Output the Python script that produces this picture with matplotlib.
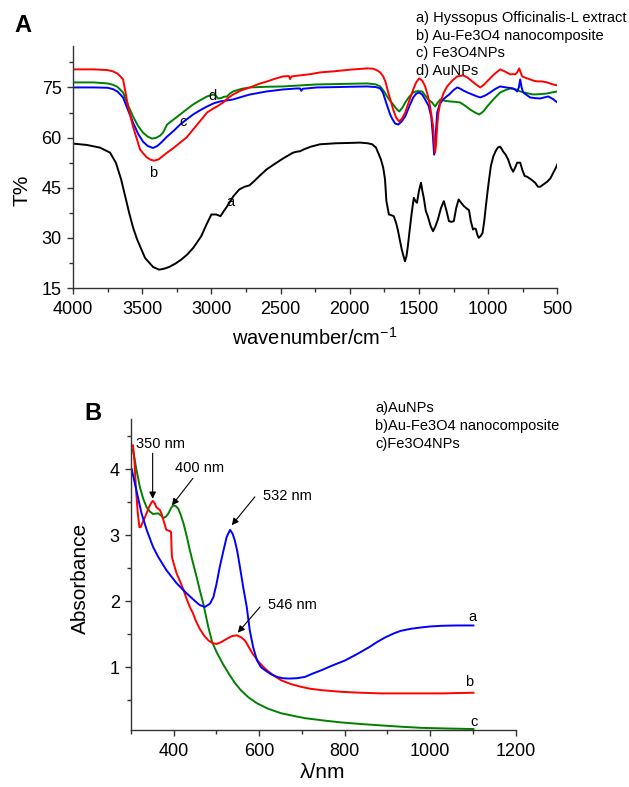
import matplotlib
matplotlib.use("Agg")
import matplotlib.pyplot as plt
from matplotlib.ticker import MultipleLocator

plt.rcParams['font.family'] = ['Liberation Sans', 'DejaVu Sans']
plt.rcParams['mathtext.fontset'] = 'custom'
plt.rcParams['mathtext.rm'] = 'Liberation Sans'

# ---------------- panel A : FTIR (wavenumber, T%) ----------------
wn_a = [4000, 3900, 3805, 3732, 3690, 3652, 3620, 3594, 3565, 3536, 3479, 3421, 3377, 3340, 3305,
        3260, 3218, 3175, 3131, 3073, 3035, 3000, 2965, 2934, 2910, 2885, 2840, 2798, 2760, 2725,
        2690, 2653, 2600, 2554, 2480, 2409, 2380, 2360, 2330, 2280, 2214, 2100, 2000, 1925, 1870,
        1838, 1810, 1795, 1775, 1758, 1745, 1735, 1717, 1700, 1682, 1665, 1653, 1624, 1601, 1590,
        1580, 1565, 1552, 1537, 1525, 1514, 1500, 1485, 1475, 1465, 1450, 1436, 1415, 1398, 1380,
        1363, 1340, 1320, 1300, 1283, 1265, 1248, 1230, 1213, 1195, 1175, 1155, 1138, 1125, 1109,
        1098, 1089, 1078, 1068, 1055, 1040, 1028, 1016, 1005, 993, 980, 963, 945, 930, 913, 900,
        891, 875, 855, 835, 819, 805, 790, 768, 750, 735, 718, 690, 660, 640, 623, 600, 573, 550,
        529, 510, 500]
t_a = [58.2, 57.8, 57.0, 55.5, 52.5, 47.5, 42, 37.5, 33, 29.5, 24, 21.3, 20.5, 20.8, 21.3,
       22.3, 23.5, 25, 27, 30.5, 34, 37, 37, 36.5, 38, 39.5, 42.5, 44.5, 45.3, 45.7,
       47, 48.5, 50.5, 51.8, 53.8, 55.5, 55.8, 55.9, 56.5, 57.3, 58, 58.3, 58.4, 58.5, 58.3,
       58, 57, 55.5, 53.5, 51, 47.5, 41, 37, 36.8, 36.5, 34.5, 32.5, 26.5, 23, 24.5,
       27.5, 33, 37.5, 42, 41, 40.5, 44, 46.5, 44, 42, 38, 36.5, 33.5, 32, 33.5,
       35.5, 39, 41, 38, 35, 34.8, 35, 39, 41.5, 40.5, 39.5, 38.8, 38.3, 35, 32.5,
       32.8, 32.7, 31, 30, 30.5, 31.5, 35, 39.5, 43.5, 47.5, 51.5, 54.3, 56, 57, 57.3, 56.5,
       55.8, 55, 53.4, 51, 49.8, 51, 52.5, 52.5, 50, 48.5, 48.3, 47.5, 46.5, 45.3, 45.3, 46, 46.8, 47.8,
       49.5, 51, 52]

wn_b = [4000, 3850, 3750, 3711, 3680, 3655, 3638, 3620, 3602, 3566, 3515, 3470, 3440, 3414, 3380,
        3350, 3320, 3270, 3226, 3180, 3132, 3080, 3031, 2990, 2959, 2915, 2880, 2843, 2780, 2720,
        2660, 2597, 2540, 2481, 2440, 2430, 2420, 2359, 2280, 2214, 2120, 2000, 1874, 1830, 1802,
        1780, 1758, 1740, 1722, 1700, 1686, 1665, 1643, 1620, 1599, 1570, 1541, 1520, 1498, 1475,
        1455, 1435, 1419, 1405, 1397, 1390, 1383, 1376, 1368, 1360, 1346, 1320, 1296, 1260, 1223,
        1180, 1150, 1115, 1085, 1057, 1030, 1007, 960, 913, 880, 840, 820, 804, 790, 775,
        765, 754, 725, 696, 670, 645, 610, 573, 540, 500]
t_b = [80.4, 80.4, 80.2, 79.8, 79.2, 78.2, 77.4, 73.5, 69.3, 63.3, 56.4, 54.2, 53.4, 53.1, 53.5,
       54.5, 55.5, 57, 58.5, 60, 62.4, 65, 67.5, 68.6, 69.3, 70.5, 71.8, 72.9, 74.2, 75,
       76, 76.8, 77.6, 78.3, 78.4, 77.5, 78.3, 78.6, 79.0, 79.5, 79.8, 80.3, 80.7, 80.6, 80.1,
       79.5, 78.3, 76.5, 73.5, 70.5, 68.4, 66, 64.8, 65.8, 67.5, 71, 74.4, 76.5, 77.7, 77,
       75.3, 72.5, 69.3, 65.5, 63.3, 59, 55.5, 58, 63.3, 67, 70.5, 73.5, 75.3, 77, 78.3,
       78.6, 78, 76.8, 75.8, 75, 75.8, 76.8, 78.8, 80.4, 79.8, 78.9, 79, 78.9, 79.5, 80.7,
       79.5, 78.3, 77.8, 77.4, 77, 76.8, 76.8, 76.5, 76, 75.6]

wn_c = [4000, 3850, 3750, 3711, 3680, 3660, 3638, 3600, 3566, 3530, 3494, 3460, 3429, 3421, 3390,
        3360, 3320, 3270, 3226, 3180, 3132, 3080, 3031, 2980, 2937, 2890, 2843, 2780, 2720, 2600,
        2481, 2380, 2360, 2350, 2340, 2236, 2100, 2000, 1874, 1810, 1780, 1760, 1744, 1725, 1708,
        1690, 1672, 1650, 1625, 1599, 1570, 1541, 1520, 1498, 1475, 1455, 1430, 1411, 1400, 1390,
        1380, 1368, 1350, 1325, 1300, 1281, 1250, 1223, 1200, 1180, 1150, 1115, 1085, 1057, 1020,
        985, 950, 913, 870, 819, 800, 790, 778, 768, 758, 746, 720, 696, 660, 623,
        595, 565, 530, 500]
t_c = [75, 75, 74.9, 74.5, 73.8, 73, 72, 68, 64.5, 61.2, 58.8, 57.5, 57, 56.9, 57.5,
       58.6, 60.3, 62.1, 63.9, 65.4, 66.9, 68.2, 69.3, 70.3, 70.8, 71.1, 71.4, 72.2, 72.9, 73.8,
       74.4, 74.7, 74.7, 74.0, 74.6, 75, 75.1, 75.2, 75.3, 75.1, 74.7, 73.5, 71.4, 69, 66.9,
       65.4, 64.2, 63.9, 64.8, 66.3, 69.3, 72, 73.1, 73.5, 72.8, 71.4, 69.5, 66.3, 61, 54.9,
       60, 67.5, 70, 71.4, 72.3, 72.9, 74.2, 75, 74.6, 74.1, 73.5, 72.9, 72.4, 72, 72.6,
       73.5, 74.5, 75.3, 75, 74.7, 74.2, 73.8, 75, 77.4, 75, 73.5, 72.7, 72, 71.8, 71.7,
       72, 72.3, 71.5, 70.5]

wn_d = [4000, 3850, 3750, 3711, 3680, 3660, 3638, 3600, 3566, 3530, 3494, 3460, 3429, 3400, 3370,
        3349, 3320, 3270, 3226, 3180, 3132, 3080, 3031, 2988, 2970, 2951, 2930, 2910, 2887, 2865,
        2843, 2780, 2720, 2600, 2481, 2360, 2236, 2100, 2000, 1874, 1810, 1780, 1755, 1730, 1708,
        1686, 1665, 1643, 1620, 1599, 1570, 1541, 1510, 1476, 1455, 1433, 1405, 1383, 1365, 1346,
        1310, 1274, 1240, 1202, 1165, 1130, 1095, 1064, 1035, 1007, 960, 913, 875, 840, 800,
        768, 720, 674, 620, 573, 540, 500]
t_d = [76.5, 76.5, 76.2, 75.8, 75.2, 74.4, 73.5, 69.5, 66.3, 63.5, 61.5, 60.3, 59.7, 59.9, 60.6,
       61.5, 63.9, 65.5, 66.9, 68.4, 69.9, 71.2, 72.3, 72.9, 72.6, 71.7, 71.8, 72.2, 72.3, 73.2,
       73.8, 74.6, 75, 75.2, 75.3, 75.6, 75.9, 76, 76.1, 76.2, 75.9, 75.3, 74, 72.3, 71,
       69.9, 68.7, 67.8, 68.9, 70.5, 72.2, 73.5, 73.9, 73.8, 72.6, 71.4, 70.5, 69.3, 70.4, 71.4,
       71, 70.8, 70.7, 70.5, 69.5, 68.4, 67.5, 66.9, 67.8, 69.3, 71.5, 73.5, 74.2, 74.7, 74.4,
       73.8, 73.3, 72.9, 73, 73.2, 73.5, 73.8]

legend_a = ["a) Hyssopus Officinalis-L extract", "b) Au-Fe3O4 nanocomposite",
            "c) Fe3O4NPs", "d) AuNPs"]

# ---------------- panel B : UV-vis (nm, absorbance) ----------------
wl_au = [302, 313, 325, 337, 352, 364, 383, 407, 430, 450, 461, 473, 485, 493, 500, 508, 516, 524,
         532, 538, 543, 549, 555, 563, 571, 578, 586, 595, 604, 614, 628, 642, 655, 670, 688, 707,
         725, 745, 770, 801, 830, 857, 876, 895, 915, 932, 955, 979, 1000, 1026, 1060, 1101]
abs_au = [4.0, 3.68, 3.33, 3.08, 2.82, 2.67, 2.47, 2.27, 2.12, 2.0, 1.94, 1.91, 1.96, 2.06, 2.25, 2.52,
          2.75, 2.97, 3.08, 3.02, 2.92, 2.75, 2.52, 2.2, 1.91, 1.56, 1.3, 1.1, 1.0, 0.95, 0.89, 0.85,
          0.83, 0.825, 0.83, 0.85, 0.9, 0.95, 1.02, 1.1, 1.2, 1.3, 1.38, 1.45, 1.51, 1.55, 1.58, 1.6,
          1.615, 1.625, 1.63, 1.63]

wl_comp = [305, 308, 312, 316, 320, 323, 328, 333, 341, 346, 351, 356, 360, 368, 372, 376, 383, 391,
           394, 395, 396, 401, 407, 415, 423, 430, 438, 445, 452, 461, 472, 482, 492, 501, 512, 525,
           537, 548, 558, 567, 576, 585, 600, 614, 632, 651, 675, 698, 720, 745, 790, 838, 885, 932,
           980, 1026, 1060, 1101]
abs_comp = [4.36, 4.17, 3.7, 3.35, 3.12, 3.12, 3.2, 3.27, 3.4, 3.47, 3.52, 3.48, 3.42, 3.38, 3.32, 3.23,
            3.08, 3.06, 3.05, 2.85, 2.67, 2.55, 2.42, 2.3, 2.17, 2.04, 1.91, 1.82, 1.7, 1.58, 1.47, 1.4,
            1.36, 1.35, 1.38, 1.43, 1.47, 1.48, 1.45, 1.4, 1.3, 1.2, 1.07, 0.975, 0.88, 0.8, 0.74, 0.7,
            0.67, 0.65, 0.625, 0.61, 0.6, 0.6, 0.6, 0.6, 0.605, 0.61]

wl_fe = [305, 313, 321, 329, 337, 344, 352, 364, 370, 376, 382, 388, 394, 399, 405, 411, 417, 423,
         430, 438, 446, 454, 461, 469, 475, 481, 490, 501, 515, 529, 543, 557, 575, 595, 620, 651,
         680, 707, 750, 792, 840, 885, 932, 979, 1040, 1101]
abs_fe = [4.29, 4.0, 3.73, 3.55, 3.42, 3.36, 3.32, 3.33, 3.3, 3.26, 3.28, 3.33, 3.41, 3.45, 3.44, 3.4,
          3.3, 3.18, 3.0, 2.77, 2.56, 2.36, 2.17, 1.97, 1.79, 1.61, 1.38, 1.22, 1.05, 0.9, 0.76, 0.65,
          0.54, 0.45, 0.37, 0.3, 0.26, 0.225, 0.19, 0.16, 0.135, 0.115, 0.095, 0.078, 0.068, 0.06]

legend_b = ["a)AuNPs", "b)Au-Fe3O4 nanocomposite", "c)Fe3O4NPs"]
peaks = ["350 nm", "400 nm", "532 nm", "546 nm"]

RED = '#ff0000'
GREEN = '#008000'
BLUE = '#0000ff'
LW = 1.4


def style_axes(ax):
    for s in ['top', 'right']:
        ax.spines[s].set_visible(False)
    for s in ['left', 'bottom']:
        ax.spines[s].set_color('#333333')
        ax.spines[s].set_linewidth(1.0)
    ax.tick_params(which='major', direction='out', length=4, width=1, labelsize=13,
                   color='#333333', pad=4)
    ax.tick_params(axis='x', which='major', pad=5)
    ax.tick_params(which='minor', direction='out', length=3, width=1, color='#333333')


fig = plt.figure(figsize=(6.29, 7.87), dpi=100)

# ---- A ----
axA = fig.add_axes([0.116, 0.634, 0.770, 0.308])
axA.plot(wn_a, t_a, color='k', lw=LW)
axA.plot(wn_d, t_d, color=GREEN, lw=LW)
axA.plot(wn_c, t_c, color=BLUE, lw=LW)
axA.plot(wn_b, t_b, color=RED, lw=LW)
axA.set_xlim(4000, 500)
axA.set_ylim(15, 87.5)
axA.xaxis.set_major_locator(MultipleLocator(500))
axA.xaxis.set_minor_locator(MultipleLocator(250))
axA.yaxis.set_major_locator(MultipleLocator(15))
axA.yaxis.set_minor_locator(MultipleLocator(7.5))
style_axes(axA)
axA.text(2865, 40.8, 'a', fontsize=10.5, ha='center', va='center')
axA.text(3422, 49.5, 'b', fontsize=10.5, ha='center', va='center')
axA.text(3205, 64.8, 'c', fontsize=10.5, ha='center', va='center')
axA.text(2995, 72.3, 'd', fontsize=10.5, ha='center', va='center')

fig.text(23 / 629, 1 - 26 / 787, 'A', fontsize=17, fontweight='bold', ha='center', va='center')
fig.text(22 / 629, 1 - 190 / 787, 'T%', fontsize=15, rotation=90, ha='center', va='center')
fig.text(315 / 629, 1 - 338 / 787, 'wavenumber/cm$^{-1}$', fontsize=14.5, ha='center', va='center')
for i, s in enumerate(legend_a):
    fig.text(416 / 629, 1 - (18 + 17.6 * i) / 787, s, fontsize=10.5, ha='left', va='center')

# ---- B ----
axB = fig.add_axes([0.208, 0.0724, 0.612, 0.3952])
axB.plot(wl_fe, abs_fe, color=GREEN, lw=LW)
axB.plot(wl_comp, abs_comp, color=RED, lw=LW)
axB.plot(wl_au, abs_au, color=BLUE, lw=LW)
axB.set_xlim(300, 1200)
axB.set_ylim(0.045, 4.76)
axB.xaxis.set_major_locator(MultipleLocator(200))
axB.xaxis.set_minor_locator(MultipleLocator(100))
axB.yaxis.set_major_locator(MultipleLocator(1))
axB.yaxis.set_minor_locator(MultipleLocator(0.5))
style_axes(axB)

arrow = dict(arrowstyle='-|>', color='k', lw=0.8, mutation_scale=10, shrinkA=0, shrinkB=0)
# (tail, tip, label position)
ann = [((351, 4.24), (351, 3.55), (370, 4.38)),
       ((445, 3.86), (396, 3.45), (461, 4.02)),
       ((590, 3.58), (536, 3.15), (665, 3.59)),
       ((602, 1.91), (550, 1.52), (677, 1.94))]
for lab, (tail, tip, pos) in zip(peaks, ann):
    axB.annotate('', xy=tip, xytext=tail, arrowprops=arrow)
    axB.text(pos[0], pos[1], lab, fontsize=10.5, ha='center', va='center')

axB.text(1098, 1.76, 'a', fontsize=10.5, ha='center', va='center')
axB.text(1091, 0.77, 'b', fontsize=10.5, ha='center', va='center')
axB.text(1102, 0.17, 'c', fontsize=10.5, ha='center', va='center')

fig.text(93 / 629, 1 - 414 / 787, 'B', fontsize=17, fontweight='bold', ha='center', va='center')
fig.text(80 / 629, 1 - 578 / 787, 'Absorbance', fontsize=15, rotation=90, ha='center', va='center')
fig.text(323 / 629, 1 - 772 / 787, 'λ/nm', fontsize=15, ha='center', va='center')
for i, s in enumerate(legend_b):
    fig.text(375 / 629, 1 - (408 + 18 * i) / 787, s, fontsize=10.5, ha='left', va='center')

fig.savefig('out.png', dpi=100)
